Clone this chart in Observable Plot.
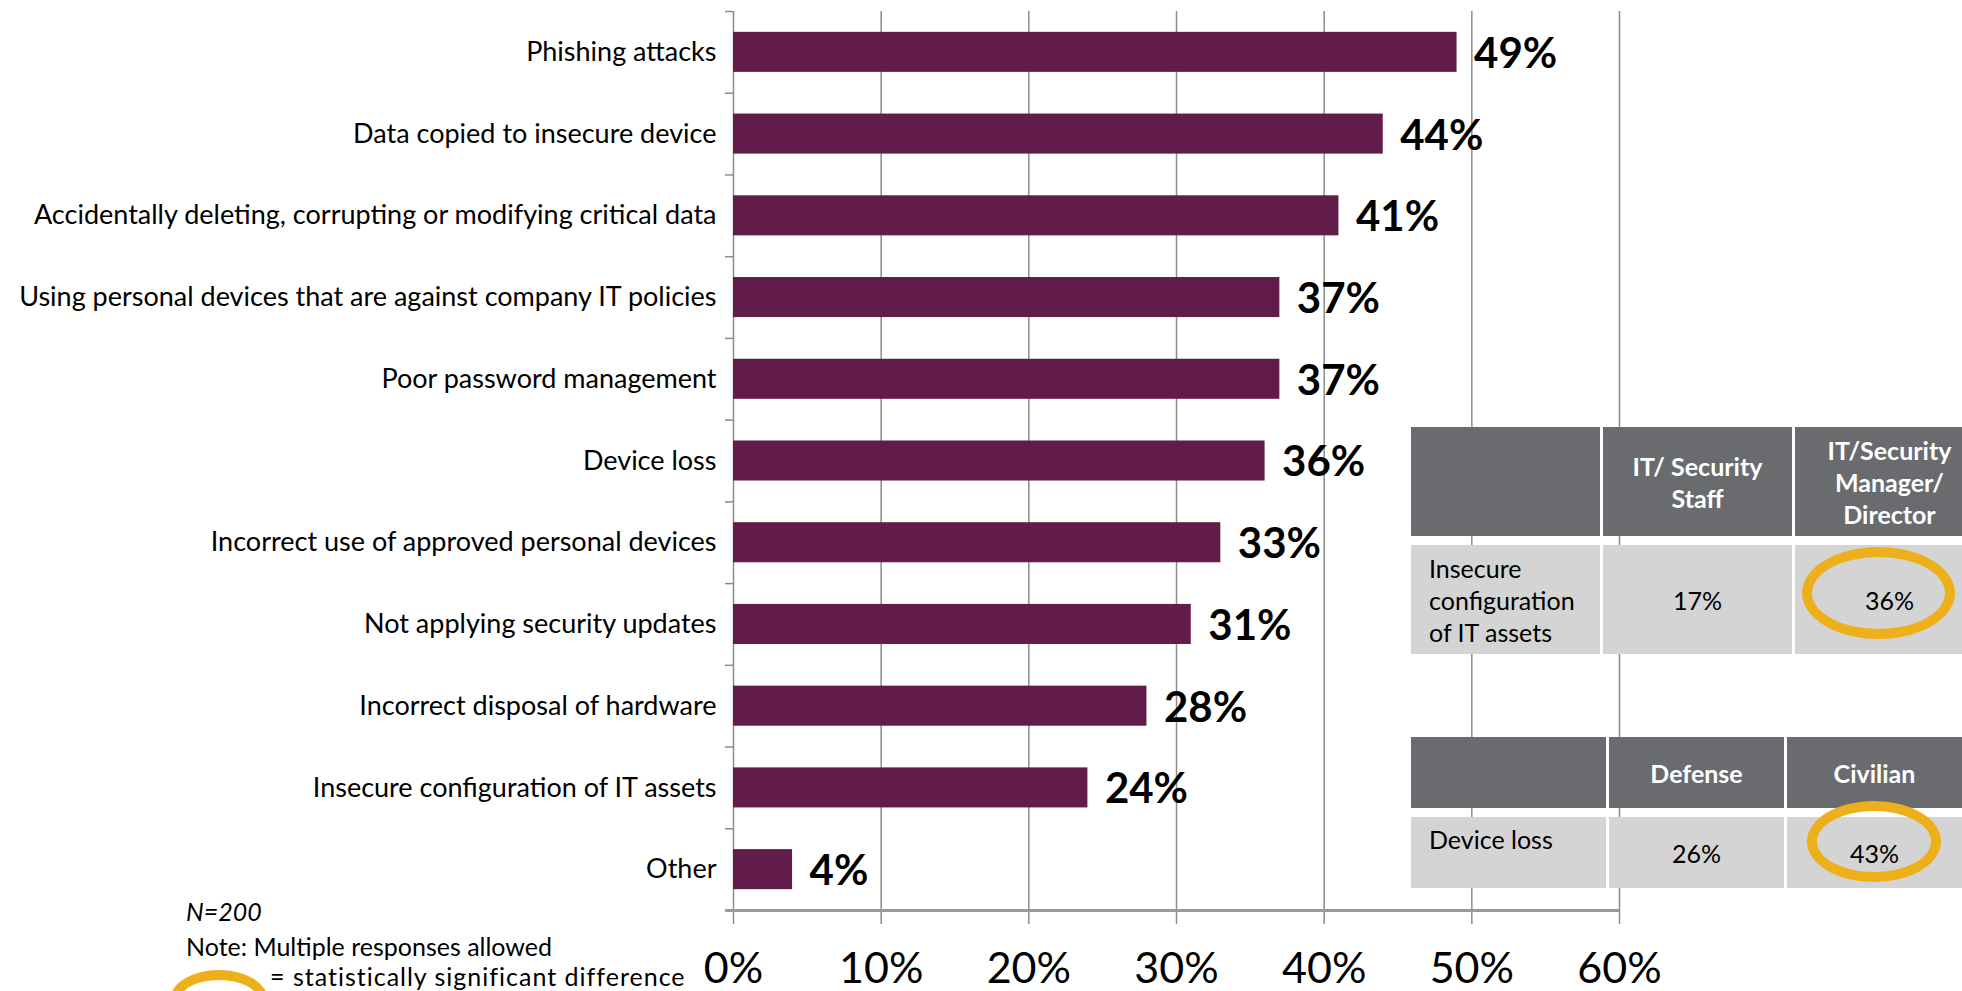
<!DOCTYPE html>
<html>
<head>
<meta charset="utf-8">
<script src="https://cdn.jsdelivr.net/npm/d3@7"></script>
<script src="https://cdn.jsdelivr.net/npm/@observablehq/plot@0.6"></script>
<style>
  html, body { margin: 0; padding: 0; background: #fff; overflow: hidden; }
  #wrap { position: relative; width: 1962px; height: 991px; overflow: hidden; font-family: Lato, sans-serif; color: #000; }
  #wrap svg { position: absolute; left: 0; top: 0; }
  .cell { position: absolute; box-sizing: border-box; display: flex; align-items: center; justify-content: center; text-align: center; white-space: pre-line; }
  .hdr { background: #6a6b6f; color: #fff; font-weight: bold; font-size: 25px; line-height: 32px; }
  .dat { background: #d4d4d4; color: #000; font-size: 25px; line-height: 32px; }
  .lab { justify-content: flex-start; text-align: left; padding-left: 18px; }
  .ell { position: absolute; box-sizing: border-box; border: 10px solid #edb01a; border-radius: 50%; }
  .note { position: absolute; font-size: 25px; line-height: 26px; white-space: nowrap; color: #000; }
</style>
</head>
<body>
<div id="wrap"></div>
<script>
// ---- data ----
const categories = [
  "Phishing attacks",
  "Data copied to insecure device",
  "Accidentally deleting, corrupting or modifying critical data",
  "Using personal devices that are against company IT policies",
  "Poor password management",
  "Device loss",
  "Incorrect use of approved personal devices",
  "Not applying security updates",
  "Incorrect disposal of hardware",
  "Insecure configuration of IT assets",
  "Other"
];
const values = [49, 44, 41, 37, 37, 36, 33, 31, 28, 24, 4];
const xTicks = [0, 10, 20, 30, 40, 50, 60];

const table1Header = ["", "IT/ Security\nStaff", "IT/Security\nManager/\nDirector"];
const table1Row = ["Insecure\nconfiguration\nof IT assets", "17%", "36%"];
const table2Header = ["", "Defense", "Civilian"];
const table2Row = ["Device loss", "26%", "43%"];

const noteLines = ["N=200", "Note: Multiple responses allowed", "= statistically significant difference"];

// ---- chart ----
const data = categories.map((c, i) => ({category: c, value: values[i]}));
const W = 1962, H = 991, mt = 11, mb = 81, ml = 733, mr = 343;
const step = (H - mt - mb) / categories.length;
const tickLen = 8 / ((W - ml - mr) / 60);
const grid = "#8c8c8c";

const chart = Plot.plot({
  width: W, height: H,
  marginTop: mt, marginBottom: mb, marginLeft: ml, marginRight: mr,
  style: {fontFamily: "Lato, sans-serif", background: "transparent", color: "#000", overflow: "visible"},
  x: {domain: [0, 60]},
  y: {domain: categories, paddingInner: 0.51, paddingOuter: 0.255, round: false},
  marks: [
    Plot.ruleX(xTicks, {stroke: grid, strokeWidth: 1.5}),
    Plot.ruleY(categories, {x1: -tickLen, x2: 0, dy: -step / 2, stroke: grid, strokeWidth: 1.5}),
    Plot.barX(data, {x: "value", y: "category", fill: "#621c4a"}),
    Plot.text(data, {x: "value", y: "category", text: d => d.value + "%", dx: 17, dy: 2, textAnchor: "start", fontWeight: "bold", fontSize: 42, fill: "#000"}),
    Plot.axisY({tickSize: 0, tickPadding: 17, fontSize: 27, label: null}),
    Plot.axisX({ticks: xTicks, tickSize: 14, tickPadding: 28, tickFormat: d => d + "%", fontSize: 43, stroke: grid, strokeWidth: 1.5, label: null}),
    Plot.ruleY([categories[categories.length - 1]], {x1: -tickLen, x2: 60, dy: step / 2, stroke: "#9a9a9a", strokeWidth: 3})
  ]
});
const wrap = document.getElementById("wrap");
wrap.appendChild(chart);

// ---- tables ----
function addCell(cls, x, y, w, h, txt) {
  const d = document.createElement("div");
  d.className = "cell " + cls;
  Object.assign(d.style, {left: x + "px", top: y + "px", width: w + "px", height: h + "px"});
  d.textContent = txt;
  wrap.appendChild(d);
  return d;
}
function addTable(header, row, xs, ws, hy, hh, ry, rh, labelTop) {
  header.forEach((t, i) => addCell("hdr", xs[i], hy, ws[i], hh, t));
  row.forEach((t, i) => {
    const c = addCell("dat" + (i === 0 ? " lab" : ""), xs[i], ry, ws[i], rh, t);
    if (i === 0 && labelTop) { c.style.alignItems = "flex-start"; c.style.paddingTop = "6px"; }
  });
}
addTable(table1Header, table1Row, [1411, 1603, 1795], [189, 189, 189], 427, 109, 545, 109, false);
addTable(table2Header, table2Row, [1411, 1609, 1787], [195, 175, 175], 737, 71, 817, 71, true);

function addEllipse(x, y, w, h) {
  const e = document.createElement("div");
  e.className = "ell";
  Object.assign(e.style, {left: x + "px", top: y + "px", width: w + "px", height: h + "px"});
  wrap.appendChild(e);
}
addEllipse(1802, 547, 153, 92);
addEllipse(1807, 801, 134, 81);

// ---- notes ----
function addNote(txt, x, y, italic, extra) {
  const n = document.createElement("div");
  n.className = "note";
  n.textContent = txt;
  Object.assign(n.style, {left: x + "px", top: y + "px"}, extra || {});
  if (italic) n.style.fontStyle = "italic";
  wrap.appendChild(n);
}
addNote(noteLines[0], 186, 898, true);
addNote(noteLines[1], 186, 933, false);
addNote(noteLines[2], 270, 963, false, {letterSpacing: "1px"});
addEllipse(170, 970, 98, 60);
</script>
</body>
</html>
